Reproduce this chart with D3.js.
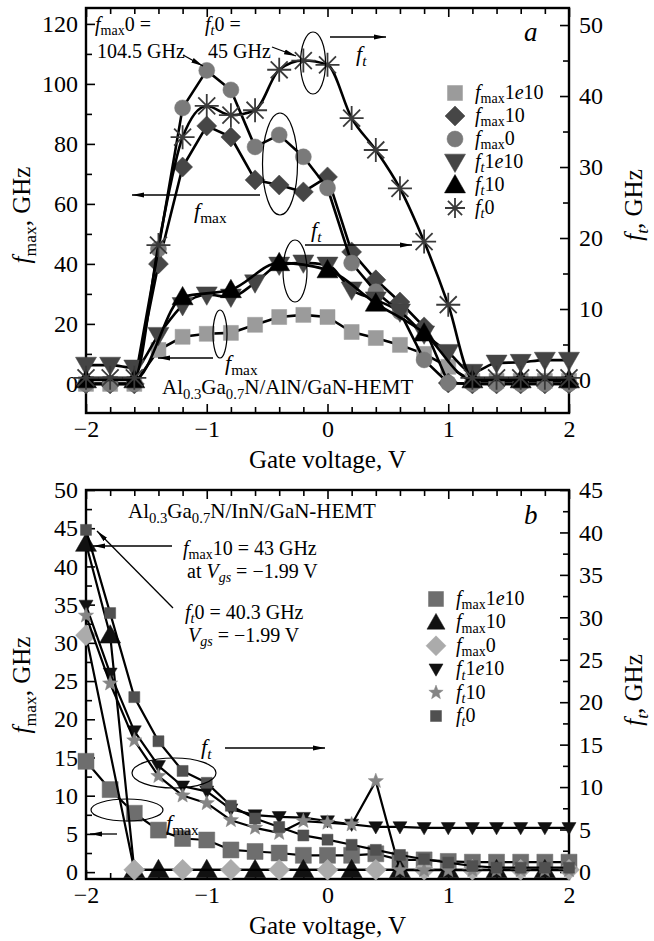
<!DOCTYPE html>
<html>
<head>
<meta charset="utf-8">
<script src="https://cdn.jsdelivr.net/npm/d3@7"></script>
<style>
  body { margin: 0; background: #fff; }
  svg { font-family: "Liberation Serif", "DejaVu Serif", serif; }
  .axis path, .axis line { stroke: #000; }
  .axis text { font-size: 24px; fill: #000; font-family: "Liberation Serif", serif; }
</style>
</head>
<body>
<svg id="chart" width="654" height="941"></svg>
<script>
// gate voltage grid (V)
var gateV = [-2, -1.8, -1.6, -1.4, -1.2, -1.0, -0.8, -0.6, -0.4, -0.2, 0,
             0.2, 0.4, 0.6, 0.8, 1.0, 1.2, 1.4, 1.6, 1.8, 2.0];

// panel a : Al0.3Ga0.7N/AlN/GaN-HEMT
var aFmax1e10 = [0, 0, 0, 11.3, 15.7, 16.7, 17, 19.7, 22.3, 23, 22.3, 17.3, 15.3, 13, 10, 5.7, 1, 1, 1, 1, 1];
var aFmax10   = [0, 0, 0, 40, 72.3, 86, 82.3, 68, 66.3, 64, 69, 44, 34.7, 27.3, 19, 0.3, 0, 0, 0, 0, 0];
var aFmax0    = [0, 0, 0, 45, 92, 104.5, 98, 79, 83, 75.7, 65.3, 40.3, 30.7, 24, 8, 0.3, 0, 0, 0, 0, 0];
var aFt1e10   = [2.1, 2.1, 1.7, 6.3, 10.5, 12, 11.7, 13.7, 16.2, 16.5, 16.2, 12.7, 11.3, 9.6, 6.5, 3.9, 1.1, 2.4, 2.5, 2.8, 2.8];
var aFt10     = [0, null, 0, null, 11.7, null, 12.7, null, 16.5, null, 15.5, null, 10.8, null, 6.6, null, 0, null, 0, null, 0];
var aFt0      = [0.3, 0.3, 0.3, 19, 34.2, 38.6, 37.3, 38, 43.7, 45, 44.4, 36.9, 32.4, 27, 19.5, 10.6, 0.3, 0.3, 0.3, 0.3, 0.3];

// panel b : Al0.3Ga0.7N/InN/GaN-HEMT
var bFmax1e10 = [14.5, 10.8, 7.7, 5.5, 4.4, 4.2, 2.9, 2.7, 2.5, 2.2, 2.2, 2.2, 2.4, 1.6, 1.6, 1.4, 1.3, 1.3, 1.3, 1.3, 1.3];
var bFmax10   = [43, 31, 0.3, 0.3, null, 0.3, null, 0.3, null, 0.3, null, 0.3, null, 0.3, null, 0.3, null, 0.3, null, 0.3, null];
var bFmax0    = [31, null, 0.3, null, 0.3, null, 0.3, null, 0.3, null, 0.3, null, 0.3, null, 0.3, null, 0.3, null, 0.3, null, 0.3];
var bFt1e10   = [31.4, 23.4, 16.6, 12.5, 10.1, 9.5, 7.4, 6.7, 6.5, 6.4, 6.0, 5.6, 5.3, 5.3, 5.2, 5.2, 5.2, 5.2, 5.2, 5.2, 5.2];
var bFt10     = [30.2, 22.2, 15.5, 11.3, 9.0, 8.1, 6.1, 5.2, 4.6, 6.0, 5.8, 5.6, 10.7, 0.2, 0.2, 0.2, 0.2, 0.2, 0.2, 0.2, 0.2];
var bFt0      = [40.3, 30.5, 20.6, 15.4, 11.9, 10.5, 7.8, 6.3, 5.3, 4.3, 3.8, 3.2, 2.6, 2.0, 1.5, 1.1, 0.7, 0.5, 0.5, 0.5, 0.5];

// ticks
var xMajor = [-2, -1, 0, 1, 2];
var xMinor = [-1.8, -1.6, -1.4, -1.2, -0.8, -0.6, -0.4, -0.2, 0.2, 0.4, 0.6, 0.8, 1.2, 1.4, 1.6, 1.8];
var aLeftMajor = [0, 20, 40, 60, 80, 100, 120];
var aLeftMinor = [10, 30, 50, 70, 90, 110];
var aRightMajor = [0, 10, 20, 30, 40, 50];
var aRightMinor = [5, 15, 25, 35, 45];
var bLeftMajor = [0, 5, 10, 15, 20, 25, 30, 35, 40, 45, 50];
var bLeftMinor = [2.5, 7.5, 12.5, 17.5, 22.5, 27.5, 32.5, 37.5, 42.5, 47.5];
var bRightMajor = [0, 5, 10, 15, 20, 25, 30, 35, 40, 45];
var bRightMinor = [2.5, 7.5, 12.5, 17.5, 22.5, 27.5, 32.5, 37.5, 42.5];

var svg = d3.select("#chart");

svg.append("defs").append("marker")
  .attr("id", "arr")
  .attr("viewBox", "0 0 12 6")
  .attr("refX", 12).attr("refY", 3)
  .attr("markerWidth", 12).attr("markerHeight", 6)
  .attr("markerUnits", "userSpaceOnUse")
  .attr("orient", "auto")
  .append("path").attr("d", "M0,0.5L12,3L0,5.5Z").attr("fill", "#000");

// marker shapes, size = half width
var shapes = {
  square: { draw: function(c, r) { c.rect(-r, -r, 2 * r, 2 * r); } },
  diamond: { draw: function(c, r) { c.moveTo(0, -r); c.lineTo(r, 0); c.lineTo(0, r); c.lineTo(-r, 0); c.closePath(); } },
  circle: { draw: function(c, r) { c.moveTo(r, 0); c.arc(0, 0, r, 0, 2 * Math.PI); } },
  triUp: { draw: function(c, r) { c.moveTo(0, -r); c.lineTo(r, r * 0.75); c.lineTo(-r, r * 0.75); c.closePath(); } },
  triDown: { draw: function(c, r) { c.moveTo(0, r); c.lineTo(r, -r * 0.75); c.lineTo(-r, -r * 0.75); c.closePath(); } },
  star: { draw: function(c, r) {
    for (var i = 0; i < 10; i++) {
      var a = -Math.PI / 2 + i * Math.PI / 5, rr = i % 2 ? r * 0.42 : r;
      if (i == 0) c.moveTo(rr * Math.cos(a), rr * Math.sin(a)); else c.lineTo(rr * Math.cos(a), rr * Math.sin(a));
    }
    c.closePath();
  } },
  asterisk: { draw: function(c, r) {
    for (var i = 0; i < 4; i++) {
      var a = i * Math.PI / 4;
      c.moveTo(r * Math.cos(a), r * Math.sin(a));
      c.lineTo(-r * Math.cos(a), -r * Math.sin(a));
    }
  } }
};

function rich(g, x, y, segs, size, anchor, rotate) {
  var t = g.append("text")
    .attr("x", x).attr("y", y)
    .attr("font-size", size)
    .attr("text-anchor", anchor || "start")
    .attr("fill", "#000");
  if (rotate) t.attr("transform", "rotate(" + rotate + "," + x + "," + y + ")");
  var shift = 0;
  segs.forEach(function(s) {
    var target = s.sub ? size * 0.22 : 0;
    t.append("tspan")
      .attr("dy", target - shift)
      .attr("font-style", s.i ? "italic" : null)
      .attr("font-size", s.sub ? size * 0.7 : null)
      .text(s.t);
    shift = target;
  });
  return t;
}

var FMAX = [{t: "f", i: 1}, {t: "max", sub: 1}];
var FT = [{t: "f", i: 1}, {t: "t", i: 1, sub: 1}];

function drawPanel(cfg) {
  var g = svg.append("g");
  var x = d3.scaleLinear().domain([-2, 2]).range([cfg.left, cfg.right]);
  var yL = d3.scaleLinear().domain(cfg.leftDomain).range([cfg.bottom, cfg.top]);
  var yR = d3.scaleLinear().domain(cfg.rightDomain).range([cfg.bottom, cfg.top]);

  function axis(gen, scale, vals, size, labels, pos, pad) {
    var a = gen(scale).tickValues(vals).tickSizeInner(-size).tickSizeOuter(0).tickPadding(pad || 8);
    a.tickFormat(labels ? d3.format("d") : "");
    var ax = g.append("g").attr("class", "axis").attr("transform", pos).call(a);
    ax.select(".domain").remove();
    ax.selectAll("line").attr("stroke-width", 1.6);
    return ax;
  }
  axis(d3.axisBottom, x, xMajor, 9, true, "translate(0," + cfg.bottom + ")", 7);
  axis(d3.axisBottom, x, xMinor, 6, false, "translate(0," + cfg.bottom + ")");
  axis(d3.axisTop, x, xMajor, 9, false, "translate(0," + cfg.top + ")");
  axis(d3.axisTop, x, xMinor, 6, false, "translate(0," + cfg.top + ")");
  axis(d3.axisLeft, yL, cfg.leftMajor, 9, true, "translate(" + cfg.left + ",0)", 8);
  axis(d3.axisLeft, yL, cfg.leftMinor, 6, false, "translate(" + cfg.left + ",0)");
  axis(d3.axisRight, yR, cfg.rightMajor, 9, true, "translate(" + cfg.right + ",0)", 10);
  axis(d3.axisRight, yR, cfg.rightMinor, 6, false, "translate(" + cfg.right + ",0)");

  g.append("rect")
    .attr("x", cfg.left).attr("y", cfg.top)
    .attr("width", cfg.right - cfg.left).attr("height", cfg.bottom - cfg.top)
    .attr("fill", "none").attr("stroke", "#000").attr("stroke-width", 2.4);

  var plot = g.append("g");
  cfg.series.forEach(function(s) {
    var scale = s.axis == "L" ? yL : yR;
    var pts = gateV.map(function(v, i) { return [v, s.values[i]]; })
      .filter(function(p) { return p[1] !== null; });
    var line = d3.line()
      .x(function(p) { return x(p[0]); })
      .y(function(p) { return scale(p[1]); })
      .curve(s.smooth ? d3.curveMonotoneX : d3.curveLinear);
    plot.append("path").datum(pts)
      .attr("d", line)
      .attr("fill", "none").attr("stroke", "#000")
      .attr("stroke-width", cfg.lineWidth).attr("stroke-linejoin", "round");
    var sym = d3.symbol().type(shapes[s.shape]).size(s.r);
    plot.selectAll(null).data(pts).enter().append("path")
      .attr("transform", function(p) { return "translate(" + x(p[0]) + "," + scale(p[1]) + ")"; })
      .attr("d", sym)
      .attr("fill", s.shape == "asterisk" ? "none" : s.color)
      .attr("stroke", s.color)
      .attr("stroke-width", s.shape == "asterisk" ? 1.8 : 0.5);
  });

  // legend
  cfg.series.forEach(function(s, i) {
    var ly = cfg.legY + i * cfg.legStep;
    g.append("path")
      .attr("transform", "translate(" + cfg.legX + "," + ly + ")")
      .attr("d", d3.symbol().type(shapes[s.shape]).size(s.legR || s.r))
      .attr("fill", s.shape == "asterisk" ? "none" : s.color)
      .attr("stroke", s.color)
      .attr("stroke-width", s.shape == "asterisk" ? 1.8 : 0.5);
    rich(g, cfg.legX + 20, ly + 6, s.label, 20);
  });

  // axis titles
  rich(g, 30, cfg.leftTitleY, FMAX.concat([{t: ", GHz"}]), 25, "middle", -90);
  rich(g, 642, cfg.rightTitleY, FT.concat([{t: ", GHz"}]), 25, "middle", -90);
  g.append("text").attr("x", (cfg.left + cfg.right) / 2).attr("y", cfg.bottom + 55)
    .attr("text-anchor", "middle").attr("font-size", 25).text("Gate voltage, V");
  return g;
}

function lbl(prefix, rest) {
  var segs = prefix.slice();
  rest.forEach(function(r) { segs.push(r); });
  return segs;
}
var L1e10 = [{t: "1"}, {t: "e", i: 1}, {t: "10"}];

var gA = drawPanel({
  left: 86, right: 569, top: 8, bottom: 413,
  leftDomain: [-9.7, 125.3], rightDomain: [-4.65, 52.4],
  leftMajor: aLeftMajor, leftMinor: aLeftMinor, rightMajor: aRightMajor, rightMinor: aRightMinor,
  lineWidth: 2.6,
  legX: 455, legY: 93, legStep: 23,
  leftTitleY: 215, rightTitleY: 205,
  series: [
    {values: aFmax1e10, axis: "L", shape: "square", r: 7.5, color: "#9b9b9b", label: lbl(FMAX, L1e10)},
    {values: aFmax10, axis: "L", shape: "diamond", r: 10, color: "#464646", label: lbl(FMAX, [{t: "10"}])},
    {values: aFmax0, axis: "L", shape: "circle", r: 8, color: "#7a7a7a", label: lbl(FMAX, [{t: "0"}])},
    {values: aFt1e10, axis: "R", shape: "triDown", r: 10.5, color: "#444", label: lbl(FT, L1e10), smooth: true},
    {values: aFt10, axis: "R", shape: "triUp", r: 10.5, color: "#000", label: lbl(FT, [{t: "10"}]), smooth: true},
    {values: aFt0, axis: "R", shape: "asterisk", r: 12, color: "#3a3a3a", legR: 10, label: lbl(FT, [{t: "0"}]), smooth: true}
  ]
});

var gB = drawPanel({
  left: 86, right: 569, top: 490, bottom: 879,
  leftDomain: [-0.9, 50], rightDomain: [-0.83, 45],
  leftMajor: bLeftMajor, leftMinor: bLeftMinor, rightMajor: bRightMajor, rightMinor: bRightMinor,
  lineWidth: 2.2,
  legX: 436, legY: 599, legStep: 23.4,
  leftTitleY: 685, rightTitleY: 690,
  series: [
    {values: bFmax1e10, axis: "L", shape: "square", r: 8, color: "#6e6e6e", legR: 7.5, label: lbl(FMAX, L1e10)},
    {values: bFmax10, axis: "L", shape: "triUp", r: 10.5, color: "#111", legR: 9, label: lbl(FMAX, [{t: "10"}])},
    {values: bFmax0, axis: "L", shape: "diamond", r: 10.5, color: "#ababab", legR: 10, label: lbl(FMAX, [{t: "0"}])},
    {values: bFt1e10, axis: "R", shape: "triDown", r: 7, color: "#111", legR: 7, label: lbl(FT, L1e10)},
    {values: bFt10, axis: "R", shape: "star", r: 8, color: "#858585", legR: 7.5, label: lbl(FT, [{t: "10"}])},
    {values: bFt0, axis: "R", shape: "square", r: 5.5, color: "#505050", legR: 5.5, label: lbl(FT, [{t: "0"}])}
  ]
});

// annotations
function arrow(g, x1, y1, x2, y2) {
  g.append("line").attr("x1", x1).attr("y1", y1).attr("x2", x2).attr("y2", y2)
    .attr("stroke", "#000").attr("stroke-width", 1.3).attr("marker-end", "url(#arr)");
}
function ellipse(g, cx, cy, rx, ry) {
  g.append("ellipse").attr("cx", cx).attr("cy", cy).attr("rx", rx).attr("ry", ry)
    .attr("fill", "none").attr("stroke", "#000").attr("stroke-width", 1.2);
}

var annA = gA.append("g");
rich(annA, 95, 31, FMAX.concat([{t: "0 ="}]), 20);
rich(annA, 97, 58, [{t: "104.5 GHz"}], 20);
rich(annA, 205, 31, FT.concat([{t: "0 ="}]), 20);
rich(annA, 208, 58, [{t: "45 GHz"}], 20);
arrow(annA, 183, 55, 203, 66);
arrow(annA, 272, 47, 296, 56);
ellipse(annA, 313, 63, 12.5, 31);
arrow(annA, 330, 37, 386, 37);
rich(annA, 356, 61, FT, 22);
annA.append("text").attr("x", 524).attr("y", 41).attr("font-size", 27).attr("font-style", "italic").text("a");
ellipse(annA, 280, 164, 17.5, 51);
arrow(annA, 260, 195, 132, 195);
rich(annA, 194, 218, FMAX, 22);
ellipse(annA, 295, 271, 12, 31);
arrow(annA, 305, 245, 412, 245);
rich(annA, 311, 237, FT, 22);
ellipse(annA, 220, 334, 7, 24);
arrow(annA, 213, 358, 158, 358);
rich(annA, 225, 370, FMAX, 22);
rich(annA, 162, 394, [{t: "Al"}, {t: "0.3", sub: 1}, {t: "Ga"}, {t: "0.7", sub: 1}, {t: "N/AlN/GaN-HEMT"}], 21);

var annB = gB.append("g");
rich(annB, 128, 518, [{t: "Al"}, {t: "0.3", sub: 1}, {t: "Ga"}, {t: "0.7", sub: 1}, {t: "N/InN/GaN-HEMT"}], 21);
annB.append("text").attr("x", 524).attr("y", 524).attr("font-size", 27).attr("font-style", "italic").text("b");
rich(annB, 183, 555, FMAX.concat([{t: "10 = 43 GHz"}]), 20);
rich(annB, 187, 578, [{t: "at "}, {t: "V", i: 1}, {t: "gs", i: 1, sub: 1}, {t: " = \u22121.99 V"}], 20);
rich(annB, 185, 619, FT.concat([{t: "0 = 40.3 GHz"}]), 20);
rich(annB, 188, 642, [{t: "V", i: 1}, {t: "gs", i: 1, sub: 1}, {t: " = \u22121.99 V"}], 20);
arrow(annB, 172, 546, 93, 546);
arrow(annB, 173, 608, 97, 531);
rich(annB, 201, 754, FT, 22);
arrow(annB, 225, 748, 325, 748);
ellipse(annB, 174, 773, 42, 15);
ellipse(annB, 127, 810, 36, 11);
rich(annB, 166, 830, FMAX, 22);
arrow(annB, 117, 834, 90, 834);
</script>
</body>
</html>
